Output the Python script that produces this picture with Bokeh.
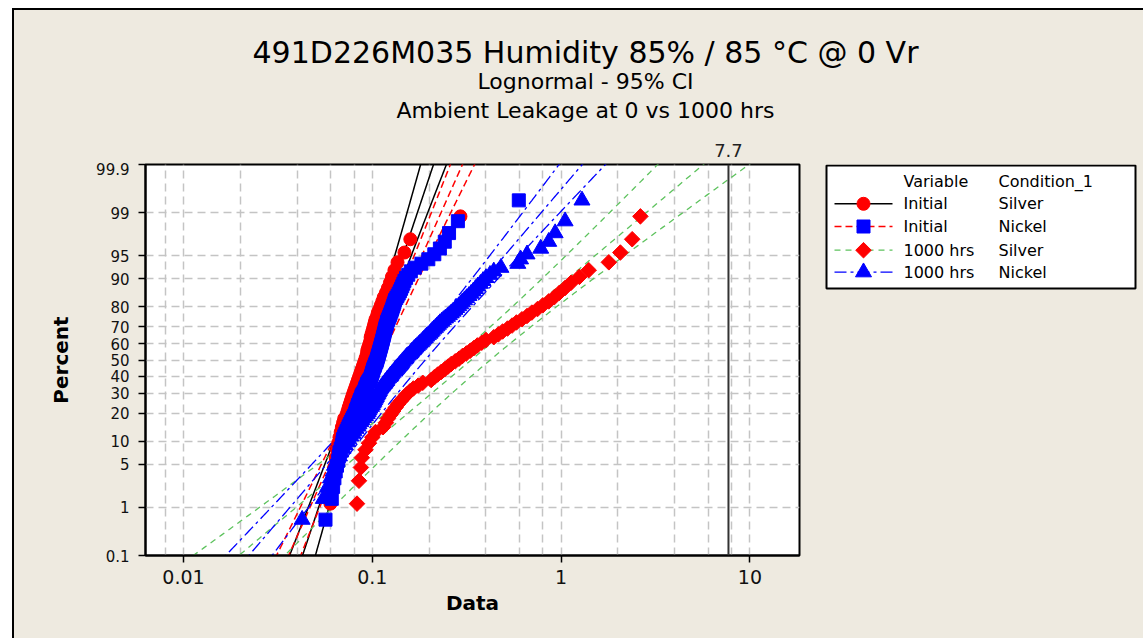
import math
from statistics import NormalDist
import numpy as np
from bokeh.plotting import figure
from bokeh.layouts import column, row
from bokeh.models import (FixedTicker, CustomJSTickFormatter, Range1d, Span,
                          ColumnDataSource, LogScale)
from bokeh.core.properties import value
from bokeh.embed import file_html
from bokeh.resources import INLINE

# ---------------- data ----------------
variables = ["Initial", "Initial", "1000 hrs", "1000 hrs"]
conditions = ["Silver", "Nickel", "Silver", "Nickel"]

initial_silver = [
    0.060, 0.062, 0.063, 0.064, 0.065, 0.066, 0.067, 0.068, 0.069, 0.070,
    0.071, 0.073, 0.074, 0.075, 0.076, 0.077, 0.078, 0.079, 0.080, 0.081,
    0.082, 0.083, 0.084, 0.085, 0.086, 0.087, 0.088, 0.089, 0.090, 0.091,
    0.092, 0.093, 0.094, 0.094, 0.095, 0.096, 0.097, 0.098, 0.098, 0.099,
    0.100, 0.101, 0.102, 0.103, 0.104, 0.106, 0.107, 0.109, 0.111, 0.113,
    0.115, 0.118, 0.121, 0.124, 0.127, 0.131, 0.136, 0.148, 0.159, 0.293,
]

initial_nickel = [
    0.0565, 0.061, 0.062, 0.063, 0.064, 0.065, 0.066, 0.0665, 0.067, 0.068,
    0.069, 0.0695, 0.070, 0.071, 0.072, 0.073, 0.074, 0.075, 0.076, 0.077,
    0.078, 0.079, 0.080, 0.081, 0.0815, 0.082, 0.083, 0.0835, 0.084, 0.085,
    0.0855, 0.086, 0.087, 0.0875, 0.088, 0.089, 0.090, 0.091, 0.0915, 0.092,
    0.093, 0.0935, 0.094, 0.095, 0.096, 0.097, 0.098, 0.0985, 0.099, 0.0995,
    0.100, 0.1005, 0.101, 0.1015, 0.102, 0.103, 0.1035, 0.104, 0.105, 0.1055,
    0.106, 0.1065, 0.107, 0.1075, 0.108, 0.1085, 0.109, 0.1095, 0.110, 0.1105,
    0.111, 0.1115, 0.112, 0.1125, 0.113, 0.1135, 0.114, 0.1145, 0.115, 0.1155,
    0.116, 0.1165, 0.117, 0.1175, 0.118, 0.119, 0.1195, 0.120, 0.121, 0.122,
    0.123, 0.124, 0.125, 0.126, 0.127, 0.128, 0.129, 0.130, 0.131, 0.132,
    0.134, 0.136, 0.138, 0.140, 0.142, 0.144, 0.146, 0.148, 0.151, 0.155,
    0.160, 0.168, 0.182, 0.198, 0.213, 0.228, 0.242, 0.255, 0.284, 0.597,
]

hrs1000_silver = [
    0.083, 0.085, 0.087, 0.088, 0.092, 0.096, 0.100, 0.104, 0.114, 0.118,
    0.121, 0.125, 0.129, 0.133, 0.137, 0.142, 0.147, 0.152, 0.158, 0.165,
    0.175, 0.185, 0.205, 0.213, 0.222, 0.232, 0.242, 0.252, 0.262, 0.275,
    0.288, 0.300, 0.315, 0.330, 0.345, 0.360, 0.380, 0.400, 0.440, 0.465,
    0.490, 0.520, 0.550, 0.580, 0.620, 0.660, 0.700, 0.750, 0.800, 0.860,
    0.920, 0.980, 1.050, 1.130, 1.250, 1.400, 1.790, 2.060, 2.380, 2.630,
]

hrs1000_nickel = [
    0.0425, 0.055, 0.058, 0.060, 0.062, 0.063, 0.065, 0.067, 0.068, 0.070,
    0.072, 0.074, 0.075, 0.077, 0.079, 0.080, 0.082, 0.084, 0.085, 0.087,
    0.088, 0.090, 0.092, 0.094, 0.095, 0.096, 0.097, 0.099, 0.100, 0.101,
    0.102, 0.103, 0.104, 0.105, 0.106, 0.107, 0.108, 0.109, 0.110, 0.111,
    0.113, 0.114, 0.116, 0.117, 0.119, 0.120, 0.122, 0.124, 0.125, 0.127,
    0.129, 0.131, 0.132, 0.134, 0.136, 0.138, 0.140, 0.142, 0.144, 0.146,
    0.148, 0.150, 0.152, 0.155, 0.158, 0.160, 0.162, 0.165, 0.167, 0.170,
    0.173, 0.176, 0.179, 0.182, 0.185, 0.188, 0.191, 0.194, 0.198, 0.202,
    0.205, 0.208, 0.212, 0.216, 0.220, 0.224, 0.228, 0.233, 0.238, 0.244,
    0.250, 0.256, 0.262, 0.268, 0.274, 0.280, 0.287, 0.294, 0.300, 0.308,
    0.316, 0.325, 0.334, 0.343, 0.352, 0.362, 0.374, 0.386, 0.400, 0.420,
    0.440, 0.480, 0.590, 0.610, 0.660, 0.780, 0.860, 0.930, 1.050, 1.290,
]

# fitted lognormal lines (median, sigma of log10)
fit_median = [0.0949, 0.104, 0.334, 0.1695]
fit_sigma_log10 = [0.1123, 0.149, 0.398, 0.2857]
ref_value = [7.7]
ref_label = ["7.7"]

pct_ticks = [0.1, 1, 5, 10, 20, 30, 40, 50, 60, 70, 80, 90, 95, 99, 99.9]
pct_labels = ["0.1", "1", "5", "10", "20", "30", "40", "50", "60", "70", "80", "90", "95", "99", "99.9"]
x_ticks = [0.01, 0.1, 1, 10]
x_labels = ["0.01", "0.1", "1", "10"]
x_grid = [0.008, 0.01, 0.02, 0.04, 0.06, 0.08, 0.1, 0.2, 0.4, 0.6, 0.8, 1, 2, 4, 6, 8, 10]

titles = ["491D226M035 Humidity 85% / 85 \u00b0C @ 0 Vr", "Lognormal - 95% CI",
          "Ambient Leakage at 0 vs 1000 hrs"]
legend_header = ["Variable", "Condition_1"]

# ---------------- layout geometry (pixels) ----------------
FONT = "DejaVu Sans"
BG = "#EEEAE0"
LOG_LO, LOG_HI = -2.2013, 1.2627
X0, Y0 = 14, 10            # content origin (after the black frame)
XR, YB = 1143, 638         # content right / bottom
FR_L, FR_R, FR_T, FR_B = 145, 799, 164, 555
SPLIT = 815
LG_L, LG_R, LG_B = 826, 1135, 287
ROW_TOP = FR_T - 2

nd = NormalDist()
z_ticks = [float(nd.inv_cdf(p / 100.0)) for p in pct_ticks]

# ---------------- title strip ----------------
top = figure(width=XR - X0, height=ROW_TOP - Y0, x_range=Range1d(X0, XR),
             y_range=Range1d(ROW_TOP, Y0), x_axis_location=None, y_axis_location=None,
             min_border=0, outline_line_color=None, background_fill_color=BG,
             border_fill_color=BG, toolbar_location=None, output_backend="svg")
top.grid.visible = False
dpx = (FR_R - FR_L) / (LOG_HI - LOG_LO)
top.extra_x_ranges = {"data": Range1d(10 ** (LOG_LO - (FR_L - X0) / dpx),
                                      10 ** (LOG_HI + (XR - FR_R) / dpx))}
top.extra_x_scales = {"data": LogScale()}
for txt, ty, fs in zip(titles, [52, 81, 110], ["30px", "22px", "22px"]):
    top.text(x=[585], y=[ty], text=[txt], text_align="center", text_baseline="middle",
             text_font=value(FONT), text_font_size=fs, text_color="black")
top.text(x=ref_value, y=[150], text=ref_label, x_range_name="data", text_align="center",
         text_baseline="middle", text_font=value(FONT), text_font_size="18px",
         text_color="#222222")

# ---------------- main probability plot ----------------
p = figure(width=SPLIT - X0, height=YB - ROW_TOP, x_axis_type="log",
           x_range=Range1d(10 ** LOG_LO, 10 ** LOG_HI),
           y_range=Range1d(z_ticks[0], z_ticks[-1]),
           output_backend="svg", toolbar_location=None, title=None,
           min_border_left=FR_L - X0, min_border_right=SPLIT - FR_R,
           min_border_top=FR_T - ROW_TOP, min_border_bottom=YB - FR_B,
           background_fill_color="white", border_fill_color=BG,
           outline_line_color="black", outline_line_width=2)

p.xgrid.ticker = FixedTicker(ticks=x_grid)
p.ygrid.ticker = FixedTicker(ticks=z_ticks)
p.grid.grid_line_color = "#C4C4C4"
p.grid.grid_line_dash = "8 5"
p.grid.grid_line_width = 1.5

p.xaxis.ticker = FixedTicker(ticks=x_ticks)
p.xaxis.formatter = CustomJSTickFormatter(args=dict(vals=x_ticks, labs=x_labels), code="""
for (let i = 0; i < vals.length; i++) {
  if (Math.abs(Math.log10(vals[i]) - Math.log10(tick)) < 1e-6) return labs[i];
}
return "";
""")
p.yaxis.ticker = FixedTicker(ticks=z_ticks)
p.yaxis.formatter = CustomJSTickFormatter(args=dict(vals=z_ticks, labs=pct_labels), code="""
for (let i = 0; i < vals.length; i++) {
  if (Math.abs(vals[i] - tick) < 1e-6) return labs[i];
}
return "";
""")
for ax in (p.xaxis[0], p.yaxis[0]):
    ax.axis_line_color = "black"
    ax.axis_line_width = 2
    ax.major_tick_line_color = "black"
    ax.major_tick_line_width = 1.5
    ax.major_tick_out = 7
    ax.major_tick_in = 0
    ax.minor_tick_line_color = None
    ax.major_label_text_font = FONT
    ax.major_label_text_color = "#111111"
    ax.axis_label_text_font = FONT
    ax.axis_label_text_font_style = "bold"
    ax.axis_label_text_font_size = "20px"
    ax.axis_label_text_color = "black"
p.xaxis.major_label_text_font_size = "19px"
p.xaxis.major_label_standoff = 7
p.xaxis.axis_label = "Data"
p.xaxis.axis_label_standoff = 4
p.yaxis.major_label_text_font_size = "15px"
p.yaxis.major_label_standoff = 9
p.yaxis.axis_label = "Percent"
p.yaxis.axis_label_standoff = 20

series = [initial_silver, initial_nickel, hrs1000_silver, hrs1000_nickel]
line_styles = [
    dict(line_color="black", line_dash="solid", line_width=1.5),
    dict(line_color="#FF0000", line_dash="7 4", line_width=1.5),
    dict(line_color="#5DC25D", line_dash="6 5", line_width=1.3),
    dict(line_color="#0000FF", line_dash="12 4 3 4", line_width=1.3),
]
marker_styles = [
    dict(marker="circle", size=13, fill_color="#FF0000", line_color="#FF0000", angle=0),
    dict(marker="square", size=13, fill_color="#0000FF", line_color="#0000FF", angle=0),
    dict(marker="square", size=11, fill_color="#FF0000", line_color="#FF0000", angle=math.pi / 4),
    dict(marker="triangle", size=16, fill_color="#0000FF", line_color="#0000FF", angle=0),
]

# fitted lines with 95% confidence bands
zz = np.linspace(-3.3, 3.3, 221)
for k, vals in enumerate(series):
    n = len(vals)
    m = math.log10(fit_median[k])
    s = fit_sigma_log10[k]
    half = 1.96 * s * np.sqrt((1 + zz ** 2 / 2.0) / n)
    center = m + zz * s
    for off in (-half, 0 * half, half):
        p.line(10 ** (center + off), zz, **line_styles[k])

# points at median ranks
for k, vals in enumerate(series):
    n = len(vals)
    xs = sorted(vals)
    zs = [nd.inv_cdf((i + 1 - 0.3) / (n + 0.4)) for i in range(n)]
    p.scatter("x", "y", source=ColumnDataSource(dict(x=xs, y=zs)), **marker_styles[k])

p.add_layout(Span(location=ref_value[0], dimension="height", line_color="#333333", line_width=2))

# ---------------- legend (its frame is aligned with the plot frame) ----------------
LW, LH = LG_R - LG_L, LG_B - FR_T
FH = FR_B - FR_T
leg = figure(width=XR - SPLIT, height=YB - ROW_TOP,
             x_range=Range1d(-(LG_L - SPLIT - 2), LW + (XR - LG_R - 2)),
             y_range=Range1d(FH - 1, -1),
             x_axis_location=None, y_axis_location=None, toolbar_location=None,
             output_backend="svg", min_border_left=2, min_border_right=2,
             min_border_top=FR_T - ROW_TOP, min_border_bottom=YB - FR_B,
             background_fill_color=BG, border_fill_color=BG, outline_line_color=None)
leg.grid.visible = False
leg.quad(left=[0], right=[LW], top=[0], bottom=[LH], fill_color="white",
         line_color="black", line_width=2)
row_y = [38.3, 61.0, 84.7, 106.7]
head_y = 16.0
for k in range(4):
    leg.line(x=[8, 66], y=[row_y[k], row_y[k]], **line_styles[k])
    leg.scatter(x=[37], y=[row_y[k]], **marker_styles[k])
leg.text(x=[77] * 5, y=[head_y] + row_y, text=[legend_header[0]] + variables,
         text_align="left", text_baseline="middle", text_font=value(FONT),
         text_font_size="16px", text_color="black")
leg.text(x=[172] * 5, y=[head_y] + row_y, text=[legend_header[1]] + conditions,
         text_align="left", text_baseline="middle", text_font=value(FONT),
         text_font_size="16px", text_color="black")

layout = column(top, row(p, leg))
layout.margin = (8, 0, 0, 12)
layout.styles = {"border-left": "2px solid #000", "border-top": "2px solid #000",
                 "background-color": BG}

open("out.html", "w").write(file_html(layout, INLINE))
